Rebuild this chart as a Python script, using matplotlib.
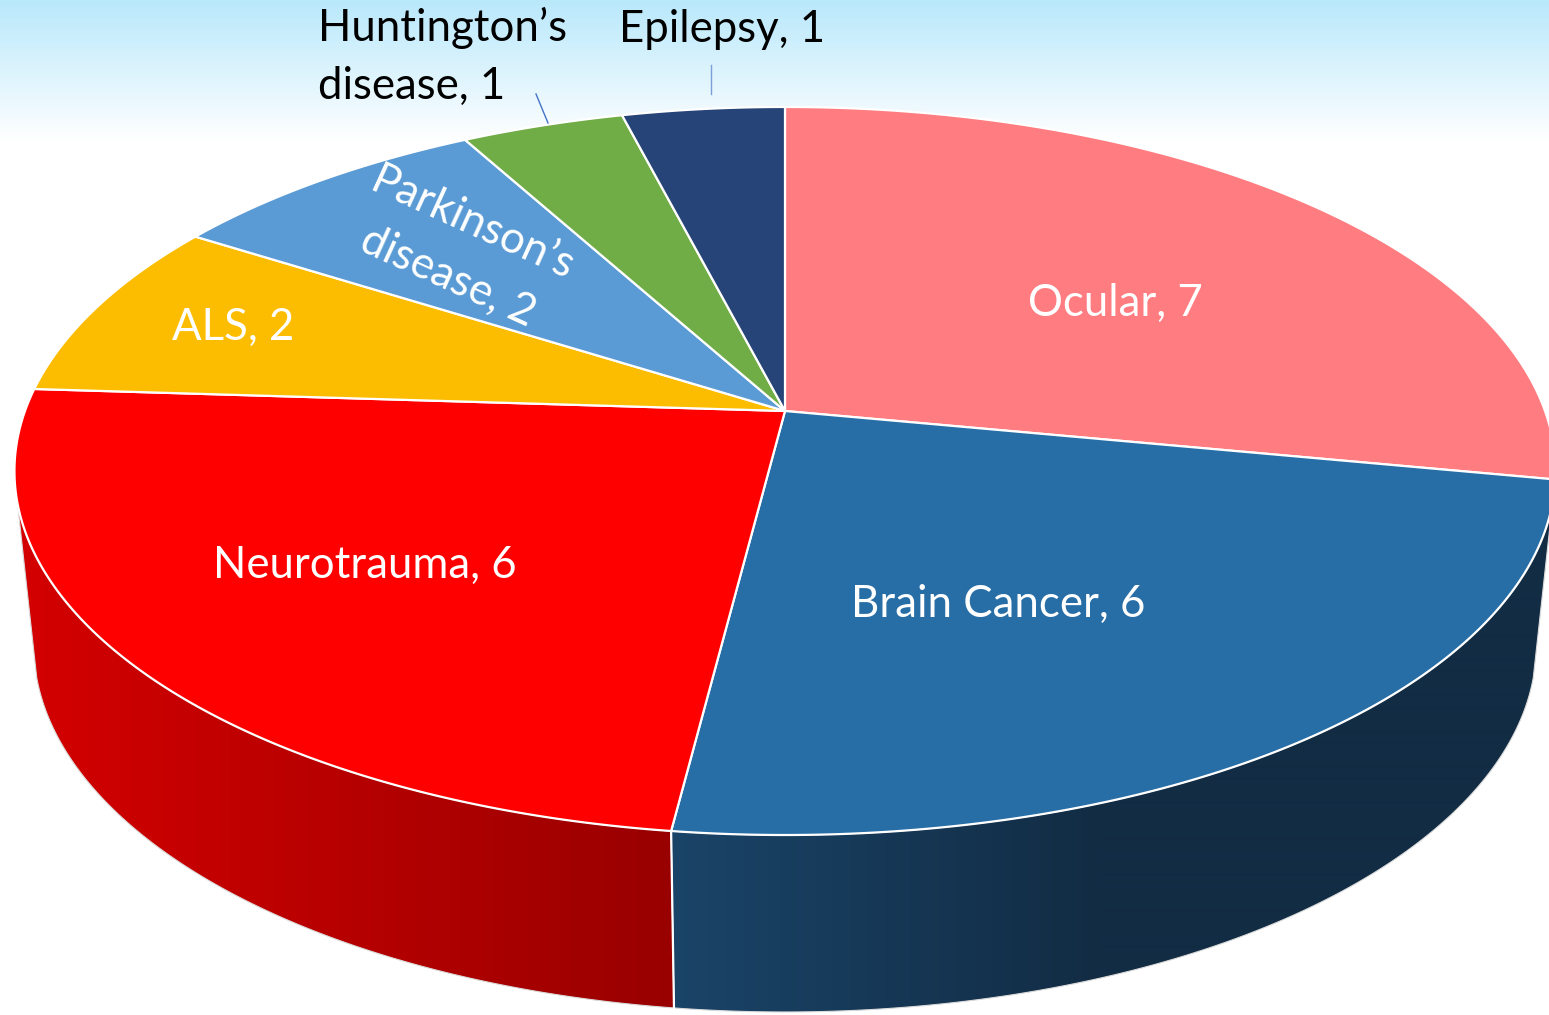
import numpy as np
import matplotlib
matplotlib.use("Agg")
import matplotlib.pyplot as plt
from matplotlib.patches import Polygon
from matplotlib.colors import to_rgb

# ---- data ----
categories = ["Ocular", "Brain Cancer", "Neurotrauma", "ALS",
              "Parkinson\u2019s\ndisease", "Huntington\u2019s\ndisease", "Epilepsy"]
values = [7, 6, 6, 2, 2, 1, 1]
top_colors = ["#FF7C80", "#276DA6", "#FF0000", "#FCBD00", "#5B9BD5", "#70AD47", "#264478"]
# side wall gradient stops per visible slice (colour at x0, colour at x1)
wall_slices = {1: ("#1A4468", "#122C44", 672, 1100),
               2: ("#D40000", "#990000", 20, 670)}
label_colors = ["white", "white", "white", "white", "white", "black", "black"]
label_pos = [(1115, 303), (998, 604), (365, 565), (233, 327), (460, 250), (318, 57), (722, 29)]
label_rot = [0, 0, 0, 0, -24.5, 0, 0]
label_ha = ["center", "center", "center", "center", "center", "left", "center"]

W, H = 1549, 1015
plt.rcParams["font.family"] = ["Lato", "DejaVu Sans"]
fig = plt.figure(figsize=(W / 100, H / 100), dpi=100, facecolor="white")
ax = fig.add_axes([0, 0, 1, 1])

# background band
c0, c1 = np.array(to_rgb("#B9E8FB")), np.array(to_rgb("#FFFFFF"))
t = np.linspace(0, 1, 142)[:, None, None]
ax.imshow(c0[None, None, :] * (1 - t) + c1[None, None, :] * t,
          extent=(0, W, 142, 0), aspect="auto", zorder=0, interpolation="bilinear")

K = 0.1648


def top_rim(theta):
    x, y = np.sin(theta), np.cos(theta)
    d = 1 + K * y
    return 785 + 760 * x / d, (411 - 286.4 * y) / d


def bottom_rim(theta):
    x, y = np.sin(theta), np.cos(theta)
    d = 1 + K * y
    return 785 + 741 * x / d, (584.5 - 260.7 * y) / d


edges = np.concatenate([[0], np.cumsum(values)]) / np.sum(values) * 2 * np.pi
sil_left, sil_right = np.radians(255.5), np.radians(104.5)   # silhouette of the drum

# side walls
for i, (ca, cb, x0, x1) in wall_slices.items():
    a = max(edges[i], sil_right)
    b = min(edges[i + 1], sil_left)
    th = np.linspace(a, b, 300)
    tx, ty = top_rim(th)
    bx, by = bottom_rim(th)
    poly = Polygon(np.c_[np.r_[tx, bx[::-1]], np.r_[ty, by[::-1]]], closed=True,
                   facecolor="none", edgecolor="#DADADA", lw=0.8, zorder=2)
    ax.add_patch(poly)
    xs = np.linspace(0, W, W)
    f = np.clip((xs - x0) / (x1 - x0), 0, 1)[None, :, None]
    ca, cb = np.array(to_rgb(ca)), np.array(to_rgb(cb))
    im = ax.imshow(ca[None, None, :] * (1 - f) + cb[None, None, :] * f,
                   extent=(0, W, 1015, 250), aspect="auto", zorder=1, interpolation="bilinear")
    im.set_clip_path(poly)

ax.set_xlim(0, W)
ax.set_ylim(H, 0)
ax.axis("off")

# seam between the two visible walls
sx0, sy0 = top_rim(edges[2])
sx1, sy1 = bottom_rim(edges[2])
ax.plot([sx0, sx1], [sy0, sy1], color="white", lw=1.6, zorder=2.5)

# top face slices
for i, col in enumerate(top_colors):
    th = np.linspace(edges[i], edges[i + 1], 200)
    x, y = top_rim(th)
    ax.fill(np.r_[785, x], np.r_[411, y], facecolor=col, edgecolor="white", lw=1.6,
            joinstyle="round", zorder=3)

# labels
for name, v, col, (x, y), r, ha in zip(categories, values, label_colors, label_pos, label_rot, label_ha):
    ax.text(x, y, f"{name}, {v}", color=col, fontsize=31.5, ha=ha, va="center", rotation=r,
            rotation_mode="anchor", linespacing=1.53, multialignment="left" if ha == "left" else "center", zorder=5)

# leader lines
ax.plot([536, 548], [94, 123], color="#4472C4", lw=1.0, zorder=4)
ax.plot([711, 711], [65, 94], color="#7C9FD8", lw=1.0, zorder=4)

fig.savefig("out.png", dpi=100)
